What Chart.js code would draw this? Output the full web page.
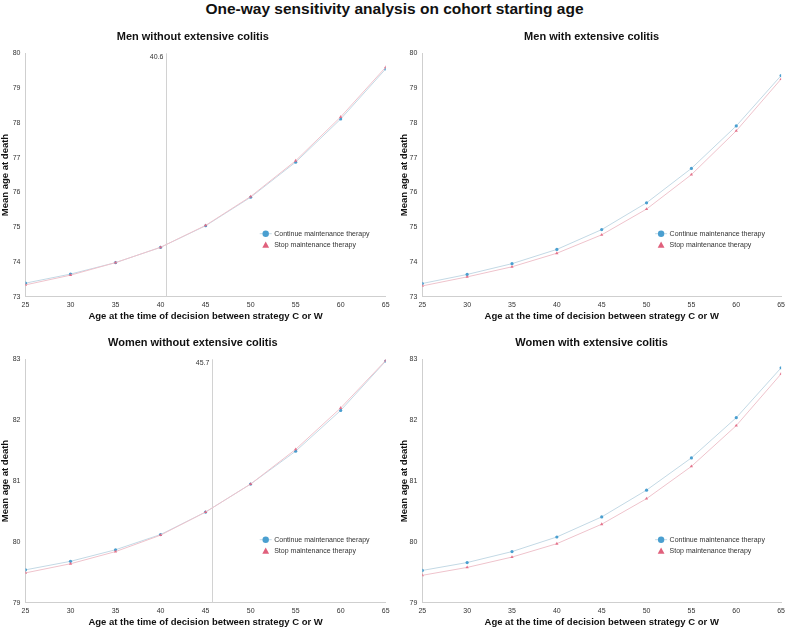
<!DOCTYPE html>
<html>
<head>
<meta charset="utf-8">
<script src="https://cdn.jsdelivr.net/npm/chart.js@4.4.1/dist/chart.umd.min.js"></script>
<style>
  body { margin: 0; background: #fff; width: 789px; height: 628px; position: relative; overflow: hidden;
         font-family: "Liberation Sans", Arial, sans-serif; }
  #title { position: absolute; left: 0; top: 0; width: 789px; text-align: center; font-weight: bold;
           font-size: 15.5px; line-height: 18px; color: #111; }
  .panel { position: absolute; }
</style>
</head>
<body>
<div id="title">One-way sensitivity analysis on cohort starting age</div>
<div class="panel" style="left:0;top:24px"><canvas id="c1" width="395" height="298"></canvas></div>
<div class="panel" style="left:395px;top:24px"><canvas id="c2" width="394" height="298"></canvas></div>
<div class="panel" style="left:0;top:330px"><canvas id="c3" width="395" height="298"></canvas></div>
<div class="panel" style="left:395px;top:330px"><canvas id="c4" width="394" height="298"></canvas></div>
<script>
// cohort starting ages (x axis)
var ages = [25, 30, 35, 40, 45, 50, 55, 60, 65];

// mean age at death
var menNoExtCont = [73.39, 73.65, 73.98, 74.42, 75.04, 75.86, 76.87, 78.11, 79.55];
var menNoExtStop = [73.34, 73.62, 73.98, 74.42, 75.05, 75.88, 76.91, 78.17, 79.60];
var menExtCont   = [73.38, 73.64, 73.95, 74.36, 74.93, 75.70, 76.69, 77.91, 79.36];
var menExtStop   = [73.31, 73.57, 73.86, 74.25, 74.78, 75.52, 76.51, 77.77, 79.26];
var womNoExtCont = [79.54, 79.68, 79.87, 80.12, 80.49, 80.95, 81.49, 82.16, 82.97];
var womNoExtStop = [79.49, 79.64, 79.84, 80.11, 80.49, 80.95, 81.52, 82.20, 82.98];
var womExtCont   = [79.53, 79.66, 79.84, 80.08, 80.41, 80.85, 81.38, 82.04, 82.86];
var womExtStop   = [79.45, 79.58, 79.75, 79.97, 80.29, 80.71, 81.24, 81.91, 82.76];

// threshold ages where the strategies cross
var menThreshold = 40.6;
var womThreshold = 45.7;

var seriesNames = ["Continue maintenance therapy", "Stop maintenance therapy"];
var xTitle = "Age at the time of decision between strategy C or W";
var yTitle = "Mean age at death";

var FONT = "'Liberation Sans', Arial, sans-serif";
var contPoint = "#4a9fd0", contLine = "#c3d9e5";
var stopPoint = "rgba(224,96,124,0.85)", stopLine = "#efc3cc";

function pts(ys) {
  return ages.map(function (a, i) { return { x: a, y: ys[i] }; });
}

// vertical threshold line with its value on top
const thresholdLine = {
  id: "thresholdLine",
  beforeDatasetsDraw(chart, args, opts) {
    if (opts.value == null) return;
    const ctx = chart.ctx, area = chart.chartArea;
    const x = chart.scales.x.getPixelForValue(opts.value);
    ctx.save();
    ctx.strokeStyle = "#d2d2d2";
    ctx.lineWidth = 1;
    ctx.beginPath();
    ctx.moveTo(Math.round(x) + 0.5, area.top);
    ctx.lineTo(Math.round(x) + 0.5, area.bottom);
    ctx.stroke();
    ctx.fillStyle = "#333";
    ctx.font = "7px " + FONT;
    ctx.textAlign = "right";
    ctx.textBaseline = "middle";
    ctx.fillText(opts.value.toFixed(1), x - 2.5, area.top + 4);
    ctx.restore();
  },
};

// legend drawn inside the plot, lower right
const innerLegend = {
  id: "innerLegend",
  afterDatasetsDraw(chart) {
    const ctx = chart.ctx, area = chart.chartArea;
    const x = area.right - 120, y = area.bottom - 63;
    const ds = chart.data.datasets;
    ctx.save();
    ctx.strokeStyle = ds[0].borderColor;
    ctx.lineWidth = 1;
    ctx.beginPath();
    ctx.moveTo(x - 6, y);
    ctx.lineTo(x + 6, y);
    ctx.stroke();
    ctx.fillStyle = contPoint;
    ctx.beginPath();
    ctx.arc(x, y, 3.2, 0, Math.PI * 2);
    ctx.fill();
    ctx.fillStyle = "#e0607c";
    const ty = y + 11.5;
    ctx.beginPath();
    ctx.moveTo(x, ty - 3.6);
    ctx.lineTo(x + 3.4, ty + 2.6);
    ctx.lineTo(x - 3.4, ty + 2.6);
    ctx.closePath();
    ctx.fill();
    ctx.fillStyle = "#333";
    ctx.font = "7px " + FONT;
    ctx.textBaseline = "middle";
    ctx.fillText(ds[0].label, x + 8.5, y);
    ctx.fillText(ds[1].label, x + 8.5, ty);
    ctx.restore();
  },
};

function makePanel(id, title, cont, stop, yMin, yMax, threshold, padLeft, yWidth, padRight) {
  const ctx = document.getElementById(id).getContext("2d");
  return new Chart(ctx, {
    type: "line",
    data: {
      datasets: [
        {
          label: seriesNames[0],
          data: pts(cont),
          borderColor: contLine,
          borderWidth: 1,
          pointBackgroundColor: contPoint,
          pointBorderWidth: 0,
          pointRadius: 1.6,
          pointStyle: "circle",
          tension: 0,
          order: 1,
        },
        {
          label: seriesNames[1],
          data: pts(stop),
          borderColor: stopLine,
          borderWidth: 1,
          pointBackgroundColor: stopPoint,
          pointBorderWidth: 0,
          pointRadius: 1.9,
          pointStyle: "triangle",
          tension: 0,
          order: 0,
        },
      ],
    },
    options: {
      responsive: false,
      animation: false,
      layout: { padding: { left: padLeft, right: padRight, top: 0, bottom: 0 } },
      plugins: {
        legend: { display: false },
        tooltip: { enabled: false },
        title: {
          display: true,
          text: title,
          color: "#111",
          font: { family: FONT, size: 11, weight: "bold", lineHeight: 1.2 },
          padding: { top: 6.1, bottom: 10 },
        },
        thresholdLine: { value: threshold },
      },
      scales: {
        x: {
          type: "linear",
          min: 25,
          max: 65,
          grid: { display: false, drawTicks: false },
          border: { display: true, color: "#cfcfcf" },
          ticks: { stepSize: 5, padding: 4, autoSkip: false, maxRotation: 0, color: "#333",
                   font: { family: FONT, size: 7 } },
          title: { display: true, text: xTitle, color: "#111", padding: 0,
                   font: { family: FONT, size: 9.5, weight: "bold" } },
          afterFit: function (s) { s.height = 25.3; },
        },
        y: {
          min: yMin,
          max: yMax,
          grid: { display: false, drawTicks: false },
          border: { display: true, color: "#cfcfcf" },
          ticks: { stepSize: 1, padding: 5, color: "#333", font: { family: FONT, size: 7 } },
          title: { display: true, text: yTitle, color: "#111", padding: 0,
                   font: { family: FONT, size: 9.5, weight: "bold" } },
          afterFit: function (s) { s.width = yWidth; },
        },
      },
    },
    plugins: [thresholdLine, innerLegend],
  });
}

makePanel("c1", "Men without extensive colitis", menNoExtCont, menNoExtStop, 73, 80, menThreshold, 0, 25.5, 9.3);
makePanel("c2", "Men with extensive colitis", menExtCont, menExtStop, 73, 80, null, 4, 23.3, 4.7);
makePanel("c3", "Women without extensive colitis", womNoExtCont, womNoExtStop, 79, 83, womThreshold, 0, 25.5, 9.3);
makePanel("c4", "Women with extensive colitis", womExtCont, womExtStop, 79, 83, null, 4, 23.3, 4.7);
</script>
</body>
</html>
